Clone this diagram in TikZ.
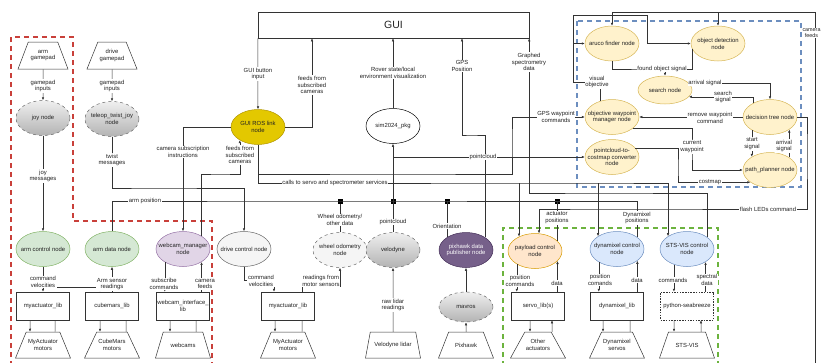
\documentclass[tikz,border=0pt]{standalone}
\usepackage{fontspec}
\setmainfont{Liberation Sans}
\usetikzlibrary{shapes.geometric,arrows.meta}
\definecolor{linec}{HTML}{333333}
\definecolor{txtc}{HTML}{222222}
\definecolor{gfill}{HTML}{D5E8D4}\definecolor{gdraw}{HTML}{82B366}
\definecolor{pfill}{HTML}{E1D5E7}\definecolor{pdraw}{HTML}{9673A6}
\definecolor{dpfill}{HTML}{76608A}\definecolor{dpdraw}{HTML}{432D57}
\definecolor{yfill}{HTML}{E3C800}\definecolor{ydraw}{HTML}{B09500}
\definecolor{lyfill}{HTML}{FFF2CC}\definecolor{lydraw}{HTML}{D6B656}
\definecolor{ofill}{HTML}{FFE6CC}\definecolor{odraw}{HTML}{D79B00}
\definecolor{bfill}{HTML}{DAE8FC}\definecolor{bdraw}{HTML}{6C8EBF}
\definecolor{lgfill}{HTML}{F5F5F5}\definecolor{lgdraw}{HTML}{666666}
\definecolor{gradtop}{HTML}{EFEFEF}\definecolor{gradbot}{HTML}{B3B3B3}
\definecolor{redd}{HTML}{C9403A}\definecolor{greend}{HTML}{6CB33E}\definecolor{blued}{HTML}{6C8EBF}
\begin{document}
\begin{tikzpicture}[x=1pt,y=-1pt,
  every node/.style={font=\fontsize{5.9}{6.8}\selectfont, text=txtc, align=center, inner sep=0.8pt},
  en/.style={ellipse, minimum width=54pt, minimum height=35pt, inner xsep=-9pt, inner ysep=-4pt, line width=0.5pt},
  greenN/.style={en, fill=gfill, draw=gdraw},
  purpN/.style={en, fill=pfill, draw=pdraw},
  darkpN/.style={en, fill=dpfill, draw=dpdraw, text=white},
  yelN/.style={en, fill=yfill, draw=ydraw},
  lyN/.style={en, fill=lyfill, draw=lydraw},
  orN/.style={en, fill=ofill, draw=odraw},
  blN/.style={en, fill=bfill, draw=bdraw},
  lgN/.style={en, fill=lgfill, draw=lgdraw},
  grN/.style={en, top color=gradtop, bottom color=gradbot, draw=lgdraw, dashed},
  libbox/.style={rectangle, draw=linec, fill=white, minimum width=53pt, minimum height=28pt, inner xsep=-2pt, line width=0.5pt},
  devN/.style={trapezium, trapezium left angle=68, trapezium right angle=68, trapezium stretches=true, draw=linec, fill=white, minimum width=55pt, minimum height=26pt, inner xsep=-8pt, inner ysep=0pt, line width=0.5pt},
  padN/.style={devN, trapezium left angle=75, trapezium right angle=75, minimum width=50pt, minimum height=27pt},
  lbl/.style={fill=white, inner sep=0.6pt},
  ln/.style={draw=linec, line width=0.5pt},
  arr/.style={ln, -{Latex[length=3pt,width=2.5pt]}},
  junc/.style={rectangle, fill=black, minimum size=5pt, inner sep=0pt},
  region/.style={line width=1.3pt, dash pattern=on 5pt off 4pt}
]
\useasboundingbox (0,0) rectangle (823,362);
% regions
\draw[region, draw=redd] (11,366) -- (11,37) -- (73,37) -- (73,221) -- (212,221) -- (212,366);
\draw[region, draw=greend] (503,366) -- (503,228) -- (718,228) -- (718,366);
\draw[region, draw=blued] (577,21) rectangle (801,187);

% GUI
\node[draw=linec, line width=0.5pt, minimum width=271pt, minimum height=26pt, font=\fontsize{10.5}{12}\selectfont] (gui) at (393.5,25) {GUI};

% left column
\node[padN] (armpad) at (43,55.5) {arm\\gamepad};
\node[padN] (drivepad) at (112,55.5) {drive\\gamepad};
\node[grN] (joy) at (43,118) {joy node};
\node[grN] (teleop) at (112,119) {teleop\_twist\_joy\\node};
\node[greenN] (armctl) at (43,249) {arm control node};
\node[greenN] (armdata) at (112,249) {arm data node};
\node[purpN] (webmgr) at (183,249) {webcam\_manager\\node};
\node[libbox] (myact1) at (43,306) {myactuator\_lib};
\node[libbox] (cubelib) at (112,306) {cubemars\_lib};
\node[libbox] (webif) at (183,306) {webcam\_interface\_\\lib};
\node[devN] (mamot1) at (43,345) {MyActuator\\motors};
\node[devN] (cmmot) at (112,345) {CubeMars\\motors};
\node[devN] (webcams) at (183,345) {webcams};

% middle
\node[yelN] (guiros) at (258,127) {GUI ROS link\\node};
\node[en, draw=black, fill=white] (sim) at (393,126) {sim2024\_pkg};
\node[lgN] (drive) at (244,249) {drive control node};
\node[libbox] (myact2) at (288,306) {myactuator\_lib};
\node[devN] (mamot2) at (288,345) {MyActuator\\motors};
\node[lgN, dashed] (wheel) at (340,250) {wheel odometry\\node};
\node[grN] (velo) at (393,250) {velodyne};
\node[devN] (velolidar) at (393,345) {Velodyne lidar};
\node[darkpN] (pix) at (466,250) {pixhawk data\\publisher node};
\node[grN, minimum height=30pt] (mavros) at (466,307) {mavros};
\node[devN] (pixhawk) at (466,345) {Pixhawk};

% green region
\node[orN] (payload) at (535,251) {payload control\\node};
\node[libbox] (servo) at (538,306) {servo\_lib(s)};
\node[devN] (otheract) at (538,345) {Other\\actuators};
\node[blN] (dyn) at (617,249) {dynamixel control\\node};
\node[libbox] (dynlib) at (617,306) {dynamixel\_lib};
\node[devN] (dynservo) at (617,345) {Dynamixel\\servos};
\node[blN] (sts) at (687,249) {STS-VIS control\\node};
\node[libbox, dash pattern=on 1.5pt off 1.2pt] (seab) at (687,306) {python-seabreeze};
\node[devN] (stsvis) at (687,345) {STS-VIS};

% blue region
\node[lyN] (aruco) at (612,43.5) {aruco finder node};
\node[lyN] (objdet) at (718,43.5) {object detection\\node};
\node[lyN, minimum height=28pt] (search) at (665,90) {search node};
\node[lyN] (decision) at (770,117) {decision tree node};
\node[lyN] (objwp) at (612,117) {objective waypoint\\manager node};
\node[lyN] (pc2cm) at (612,157) {pointcloud-to-\\costmap converter\\node};
\node[lyN] (path) at (770,170) {path\_planner node};

% junctions
\node[junc] (j1) at (340,201) {};
\node[junc] (j2) at (393,201) {};
\node[junc] (j3) at (447,201) {};
\node[junc] (j4) at (557,201) {};
\coordinate (camsrc) at (815,366);

% ---- connectors: left
\draw[arr] (armpad.south) -- (joy.north);
\draw[arr] (drivepad.south) -- (teleop.north);
\draw[arr] (joy.south) -- (armctl.north);
\draw[arr] (teleop.south) |- (150,188) -| (drive.north);
\draw[arr] (armctl.south) -- (myact1.north);
\draw[arr] (armctl.south |- 0,287) -| ([xshift=-12pt]cubelib.north);
\draw[arr] (cubelib.north) -- (armdata.south);
\draw[arr] ([xshift=-13pt]myact1.south) -- ([xshift=-13pt]mamot1.north);
\draw[ln] ([xshift=12pt]myact1.south) -- ([xshift=12pt]mamot1.north);
\draw[arr] ([xshift=-12pt]cubelib.south) -- ([xshift=-12pt]cmmot.north);
\draw[ln] ([xshift=14pt]cubelib.south) -- ([xshift=14pt]cmmot.north);
\draw[arr] (webmgr.-144.1) -- (webmgr.-144.1 |- webif.north);
\draw[arr] (webmgr.-35.9 |- webif.north) -- (webmgr.-35.9);
\draw[arr] ([xshift=-13pt]webif.south) -- ([xshift=-13pt]webcams.north);
\draw[ln] ([xshift=13pt]webif.south) -- ([xshift=13pt]webcams.north);

% GUI links
\draw[arr] (gui.south west) -- (guiros.north);
\draw[arr] (guiros.east) -| ([xshift=-81.5pt]gui.south);
\draw[arr] (sim.north) -- (sim.north |- gui.south);
\draw[arr] (pix.33.2) |- (470,135) -| ([xshift=68.5pt]gui.south);
\draw[arr] (sts.30.4) |- (600,193) -| (gui.south east);
\draw[arr] (guiros.west) -| (webmgr.north);
\draw[arr] (webmgr.35.9) |- (220,174) -| (guiros.-144.1);
\draw[arr] (guiros.south) |- (400,174) -| (512,140) |- (objwp.west);
\draw[arr] (guiros.south) |- (600,183) -| (sts.146.8);
\draw[arr] (payload.138.6 |- 0,183) -- (payload.138.6);
\draw[arr] (dyn.146.8 |- 0,183) -- (dyn.146.8);

% bus
\draw[ln] (armdata.north) |- (300,201) -| (dyn.30.4);
\draw[ln] (wheel.north) -- (j1);
\draw[arr] (velo.north) -- (sim.south);
\draw[ln] (pix.146.8) |- (j3);
\draw[ln] (payload.24.7) |- (j4);
\draw[arr] (sim.south |- 0,157) -- (pc2cm.west);

% drive / sensors
\draw[arr] (drive.south) |- (255,280) -| ([xshift=-14pt]myact2.north);
\draw[arr] ([xshift=-13pt]myact2.south) -- ([xshift=-13pt]mamot2.north);
\draw[ln] ([xshift=14pt]myact2.south) -- ([xshift=14pt]mamot2.north);
\draw[arr] ([xshift=14pt]myact2.north) |- (320,286) -| (wheel.south);
\draw[arr] (velolidar.north) -- (velo.south);
\draw[arr] (pixhawk.north) -- (mavros.south);
\draw[arr] (mavros.north) -- (pix.south);

% green region links
\draw[arr] (payload.-144.1) -- (payload.-144.1 |- servo.north);
\draw[arr] (payload.-24.7 |- servo.north) -- (payload.-24.7);
\draw[arr] ([xshift=-8pt]servo.south) -- ([xshift=-8pt]otheract.north);
\draw[arr] ([xshift=14pt]otheract.north) -- ([xshift=14pt]servo.south);
\draw[arr] (dyn.-144.1) -- (dyn.-144.1 |- dynlib.north);
\draw[arr] (dyn.-30.4 |- dynlib.north) -- (dyn.-30.4);
\draw[arr] ([xshift=-14pt]dynlib.south) -- ([xshift=-14pt]dynservo.north);
\draw[ln] ([xshift=13pt]dynlib.south) -- ([xshift=13pt]dynservo.north);
\draw[arr] (sts.-130.3) -- (sts.-130.3 |- seab.north);
\draw[arr] (sts.-35.9 |- seab.north) -- (sts.-35.9);
\draw[arr] ([xshift=-13pt]seab.south) -- ([xshift=-13pt]stsvis.north);
\draw[arr] ([xshift=14pt]stsvis.north) -- ([xshift=14pt]seab.south);

% blue region links
\draw[arr] (camsrc) |- (aruco.north |- 0,12) -- (aruco.north);
\draw[arr] (objdet.north |- 0,12) -- (objdet.north);
\draw[arr] (objwp.127.4) |- (573,82) |- (647,15) |- (objdet.west);
\draw[arr] (aruco.west -| 573,0) -- (aruco.west);
\draw[ln] (aruco.south) |- (650,69) -| (objdet.-169.7);
\draw[arr] (search.north |- 0,69) -- (search.north);
\draw[arr] (search.16.7) -| (decision.north);
\draw[arr] (decision.141.3) |- (search.-16.7);
\draw[arr] (decision.west) -- (objwp.east);
\draw[arr] (objwp.-27.6) -| (692,150) |- (path.west);
\draw[arr] (pc2cm.21.2) -| (678,170) |- (path.-148.6);
\draw[arr] (decision.-144.1) -- (path.144.1);
\draw[arr] (path.33.2) -- (decision.-33.2);
\draw[arr] (decision.east) -| (807,150) |- (600,209) -| (payload.77);

% labels
\node[lbl] at (43,86) {gamepad\\inputs};
\node[lbl] at (112,86) {gamepad\\inputs};
\node[lbl] at (43,176) {joy\\messages};
\node[lbl] at (112,160) {twist\\messages};
\node[lbl] at (183,152) {camera subscription\\instructions};
\node[lbl] at (258,74) {GUI button\\input};
\node[lbl] at (312,85) {feeds from\\subscribed\\cameras};
\node[lbl] at (240,155) {feeds from\\subscribed\\cameras};
\node[lbl] at (393,73) {Rover state/local\\environment visualization};
\node[lbl] at (462,66) {GPS\\Position};
\node[lbl] at (529,62) {Graphed\\spectrometry\\data};
\node[lbl] at (556,117) {GPS waypoint\\commands};
\node[lbl] at (483,157) {pointcloud};
\node[lbl] at (335,183) {calls to servo and spectrometer services};
\node[lbl] at (145,201) {arm position};
\node[lbl] at (340,220) {Wheel odometry/\\other data};
\node[lbl] at (393,222) {pointcloud};
\node[lbl] at (447,226) {Orientation};
\node[lbl] at (557,218) {actuator\\positions};
\node[lbl] at (637,218) {Dynamixel\\positions};
\node[lbl] at (768,209) {flash LEDs command};
\node[lbl, font=\fontsize{5.4}{6.3}\selectfont] at (811.5,33) {camera\\feeds};
\node[lbl] at (597,82) {visual\\objective};
\node[lbl] at (662,69) {found object signal};
\node[lbl] at (705,83) {arrival signal};
\node[lbl] at (723,97) {search\\signal};
\node[lbl] at (710,118) {remove waypoint\\command};
\node[lbl] at (692,147) {current\\waypoint};
\node[lbl] at (710,182) {costmap};
\node[lbl] at (752,144) {start\\signal};
\node[lbl] at (784,146) {arrival\\signal};
\node[lbl] at (43,282) {command\\velocities};
\node[lbl] at (112,284) {Arm sensor\\readings};
\node[lbl] at (164,284) {subscribe\\commands};
\node[lbl] at (205,284) {camera\\feeds};
\node[lbl] at (261,281) {command\\velocities};
\node[lbl] at (321,281) {readings from\\motor sensors};
\node[lbl] at (393,305) {raw lidar\\readings};
\node[lbl] at (520,281) {position\\commands};
\node[lbl] at (557,283) {data};
\node[lbl] at (600,280) {position\\comands};
\node[lbl] at (637,280) {data};
\node[lbl] at (673,280) {commands};
\node[lbl] at (707,280) {spectral\\data};
\end{tikzpicture}
\end{document}
